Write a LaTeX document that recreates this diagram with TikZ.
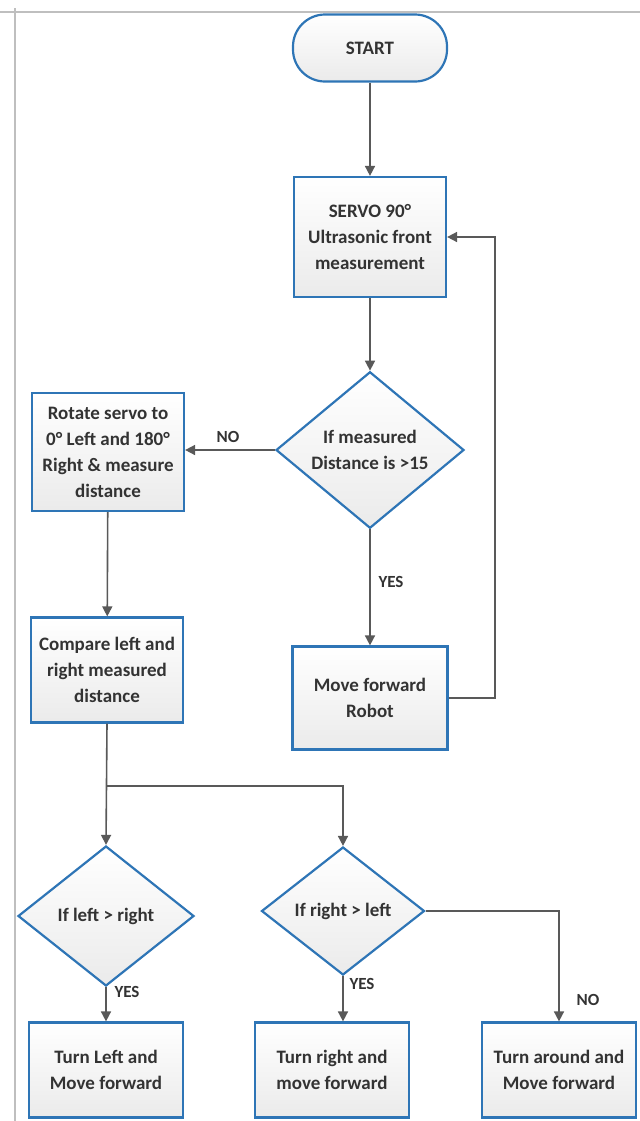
\documentclass[tikz,border=0pt]{standalone}
\usepackage{fontspec}
\setmainfont{Carlito}
\usetikzlibrary{arrows.meta,positioning,shapes.geometric,calc}
\definecolor{flowblue}{HTML}{2E75B6}
\definecolor{flowline}{HTML}{595959}
\definecolor{flowtext}{HTML}{333333}

\begin{document}
\begin{tikzpicture}[
  x=0.5pt,y=-0.5pt,
  box/.style={rectangle,draw=flowblue,line width=1.1pt,top color=white,
              bottom color=black!8,text=flowtext,align=center,
              font=\fontsize{9.5}{13}\selectfont\bfseries,
              minimum width=76pt,inner sep=1pt},
  dec/.style={diamond,draw=flowblue,line width=1.1pt,top color=white,
              bottom color=black!8,text=flowtext,align=center,
              font=\fontsize{9.5}{13}\selectfont\bfseries,inner sep=0pt},
  arr/.style={-{Triangle[length=5pt,width=5pt]},draw=flowline,line width=0.8pt},
  lbl/.style={font=\fontsize{8.5}{10}\selectfont\bfseries,text=flowtext}
]
\useasboundingbox (0,0) rectangle (640,1121);

% page frame
\draw[black!25,line width=0.7pt] (0,12) -- (640,12);
\draw[black!25,line width=0.7pt] (15,8) -- (15,1121);

% Top column: start, measure, decide, move
\node[box,rounded corners=16pt,minimum width=77pt,minimum height=33.5pt]
      (start) at (370,48) {START};
\node[box,minimum height=60pt] (servo) at (370,237)
      {SERVO 90°\\Ultrasonic front\\measurement};
\node[dec,minimum width=94pt,minimum height=74pt] (dec1) at (370,450)
      {If measured\\Distance is >15};
\node[box,minimum width=77.5pt,minimum height=51.5pt] (move) at (370,698)
      {Move forward\\Robot};

\draw[arr] (start) -- (servo);
\draw[arr] (servo) -- (dec1);
\draw[arr] (dec1) -- (move);
\coordinate (back) at (495,698);
\draw[arr] (move.east) -- (back) |- (servo.east);

% Left column: scan both sides and compare
\node[box,minimum height=59pt] (rotate) at (108,452)
      {Rotate servo to\\0° Left and 180°\\Right \& measure\\distance};
\node[box,minimum height=52.5pt] (comp) at (107,670)
      {Compare left and\\right measured\\distance};

\draw[arr] (dec1.west) -- (rotate.east |- dec1.west);
\draw[arr] (rotate) -- (comp);

% Bottom row: two checks and three turns
\node[dec,minimum width=88pt,minimum height=70pt] (decl) at (106,916)
      {If left > right};
\node[dec,minimum width=81.5pt,minimum height=64pt] (decr) at (343,911)
      {If right > left};

\coordinate (split) at (107,786);
\draw[arr] (comp.south) -- (decl.north);
\draw[arr] (split) -| (decr.north);

\node[box,minimum width=77pt,minimum height=47.5pt] (turnl) at (106,1070)
      {Turn Left and\\Move forward};
\node[box,minimum width=77pt,minimum height=47.5pt] (turnr) at (332,1070)
      {Turn right and\\move forward};
\node[box,minimum width=77pt,minimum height=47.5pt] (turna) at (559,1070)
      {Turn around and\\Move forward};

\draw[arr] (decl.south) -- (turnl.north);
\draw[arr] (decr.south) -- (decr.south |- turnr.north);
\draw[arr] (decr.east) -| (turna.north);

% Branch labels
\node[lbl] (no1)  at (228,437) {NO};
\node[lbl] (yes1) at (391,582) {YES};
\node[lbl] (yesl) at (127,992) {YES};
\node[lbl] (yesr) at (362,984) {YES};
\node[lbl] (no2)  at (588,1000) {NO};

\end{tikzpicture}
\end{document}
